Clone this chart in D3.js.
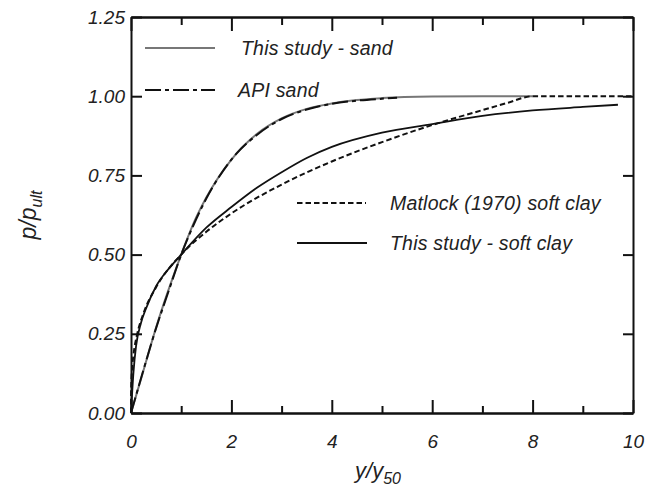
<!DOCTYPE html>
<html>
<head>
<meta charset="utf-8">
<script src="https://cdn.jsdelivr.net/npm/d3@7"></script>
<style>
    body { margin: 0; background: #fff; }
    text { font-family: "Liberation Sans", Arial, sans-serif; font-style: italic; fill: #222; }
</style>
</head>
<body>
<div id="chart"></div>
<script>
// y/y50 and p/pult
const sandX = [0, 0.25, 0.5, 0.75, 1, 1.25, 1.5, 2, 2.5, 3, 3.5, 4, 4.5, 5, 6, 7, 8];
const thisStudySand = [0, 0.135, 0.27, 0.39, 0.5, 0.6, 0.68, 0.8, 0.88, 0.93, 0.96, 0.977, 0.988, 0.994, 0.999, 1, 1];
const apiX = [0, 0.25, 0.5, 0.75, 1, 1.25, 1.5, 2, 2.5, 3, 3.5, 4, 4.5, 5, 5.3];
const apiSand = [0, 0.137, 0.268, 0.385, 0.5, 0.595, 0.677, 0.8, 0.877, 0.928, 0.958, 0.976, 0.986, 0.992, 0.995];
const matlockX = [0, 0.002, 0.01, 0.02, 0.05, 0.125, 0.25, 0.5, 1, 1.5, 2, 3, 4, 5, 6, 6.5, 7, 7.5, 8, 10];
const matlockClay = [0, 0.063, 0.108, 0.136, 0.184, 0.25, 0.315, 0.397, 0.5, 0.572, 0.63, 0.721, 0.794, 0.855, 0.909, 0.933, 0.956, 0.979, 1, 1];
const clayX = [0, 0.05, 0.1, 0.2, 0.3, 0.5, 0.75, 1, 1.5, 2, 2.5, 3, 3.5, 4, 5, 6, 7, 8, 9, 9.7];
const thisStudyClay = [0, 0.13, 0.21, 0.285, 0.33, 0.4, 0.455, 0.5, 0.585, 0.65, 0.71, 0.76, 0.805, 0.84, 0.885, 0.912, 0.938, 0.955, 0.966, 0.973];

const xTicks = [0, 2, 4, 6, 8, 10];
const xMinor = [1, 3, 5, 7, 9];
const yTicks = [0, 0.25, 0.5, 0.75, 1.0, 1.25];

const width = 650, height = 493;
const margin = {top: 17, right: 17, bottom: 80, left: 131};

const svg = d3.select('#chart').append('svg')
    .attr('width', width)
    .attr('height', height);

const x = d3.scaleLinear().domain([0, 10]).range([margin.left, width - margin.right]);
const y = d3.scaleLinear().domain([0, 1.25]).range([height - margin.bottom, margin.top]);

// curves
const series = [
    {xs: sandX, ys: thisStudySand, color: '#777', width: 2, dash: null},
    {xs: apiX, ys: apiSand, color: '#111', width: 2, dash: '16,4,4,4'},
    {xs: matlockX, ys: matlockClay, color: '#111', width: 2, dash: '5.5,3'},
    {xs: clayX, ys: thisStudyClay, color: '#111', width: 1.8, dash: null}
];

const line = d3.line()
    .x(d => x(d[0]))
    .y(d => y(d[1]))
    .curve(d3.curveMonotoneX);

svg.selectAll('.curve')
    .data(series)
    .enter().append('path')
    .attr('class', 'curve')
    .attr('d', s => line(s.xs.map((v, i) => [v, s.ys[i]])))
    .attr('fill', 'none')
    .attr('stroke', s => s.color)
    .attr('stroke-width', s => s.width)
    .attr('stroke-dasharray', s => s.dash);

// axes (ticks inward, box all around)
const axisStyle = g => {
    g.select('.domain').attr('stroke', '#111').attr('stroke-width', 2);
    g.selectAll('.tick line').attr('stroke', '#111').attr('stroke-width', 2);
    g.selectAll('text').style('font-size', '19px').attr('fill', '#222');
};

svg.append('g')
    .attr('transform', `translate(0,${y(0)})`)
    .call(d3.axisBottom(x).tickValues(xTicks).tickSize(-13).tickSizeOuter(0).tickPadding(22).tickFormat(d3.format('d')))
    .call(axisStyle);
svg.append('g')
    .attr('transform', `translate(0,${y(0)})`)
    .call(d3.axisBottom(x).tickValues(xMinor).tickSize(-7).tickSizeOuter(0).tickFormat(''))
    .call(axisStyle);
svg.append('g')
    .attr('transform', `translate(0,${y(1.25)})`)
    .call(d3.axisTop(x).tickValues(xTicks).tickSize(-14).tickSizeOuter(0).tickFormat(''))
    .call(axisStyle);
svg.append('g')
    .attr('transform', `translate(0,${y(1.25)})`)
    .call(d3.axisTop(x).tickValues(xMinor).tickSize(-8).tickSizeOuter(0).tickFormat(''))
    .call(axisStyle);
svg.append('g')
    .attr('transform', `translate(${x(0)},0)`)
    .call(d3.axisLeft(y).tickValues(yTicks).tickSize(-11).tickSizeOuter(0).tickPadding(6).tickFormat(d3.format('.2f')))
    .call(axisStyle);
svg.append('g')
    .attr('transform', `translate(${x(10)},0)`)
    .call(d3.axisRight(y).tickValues(yTicks).tickSize(-10).tickSizeOuter(0).tickFormat(''))
    .call(axisStyle);

// axis titles
const xt = svg.append('text')
    .attr('x', (x(0) + x(10)) / 2 - 4)
    .attr('y', 478)
    .attr('text-anchor', 'middle')
    .style('font-size', '22px');
xt.append('tspan').text('y/y');
xt.append('tspan').attr('dy', 6).style('font-size', '16px').text('50');

const yt = svg.append('text')
    .attr('transform', `translate(36,${y(0.625)}) rotate(-90)`)
    .attr('text-anchor', 'middle')
    .style('font-size', '23px');
yt.append('tspan').text('p/p');
yt.append('tspan').attr('dy', 6).style('font-size', '16px').text('ult');

// legends
const legend = [
    {x1: 145, x2: 215, tx: 241, y: 48, label: 'This study - sand', s: series[0]},
    {x1: 145, x2: 215, tx: 238, y: 90, label: 'API sand', s: series[1]},
    {x1: 297, x2: 366, tx: 390, y: 203, label: 'Matlock (1970) soft clay', s: series[2]},
    {x1: 297, x2: 367, tx: 390, y: 243, label: 'This study - soft clay', s: series[3]}
];

const lg = svg.selectAll('.legend')
    .data(legend)
    .enter().append('g')
    .attr('class', 'legend');
lg.append('line')
    .attr('x1', d => d.x1).attr('x2', d => d.x2)
    .attr('y1', d => d.y).attr('y2', d => d.y)
    .attr('stroke', d => d.s.color)
    .attr('stroke-width', d => d.s.width)
    .attr('stroke-dasharray', d => d.s.dash);
lg.append('text')
    .attr('x', d => d.tx)
    .attr('y', d => d.y + 7)
    .style('font-size', '19.5px')
    .style('letter-spacing', '0.2px')
    .text(d => d.label);
</script>
</body>
</html>
